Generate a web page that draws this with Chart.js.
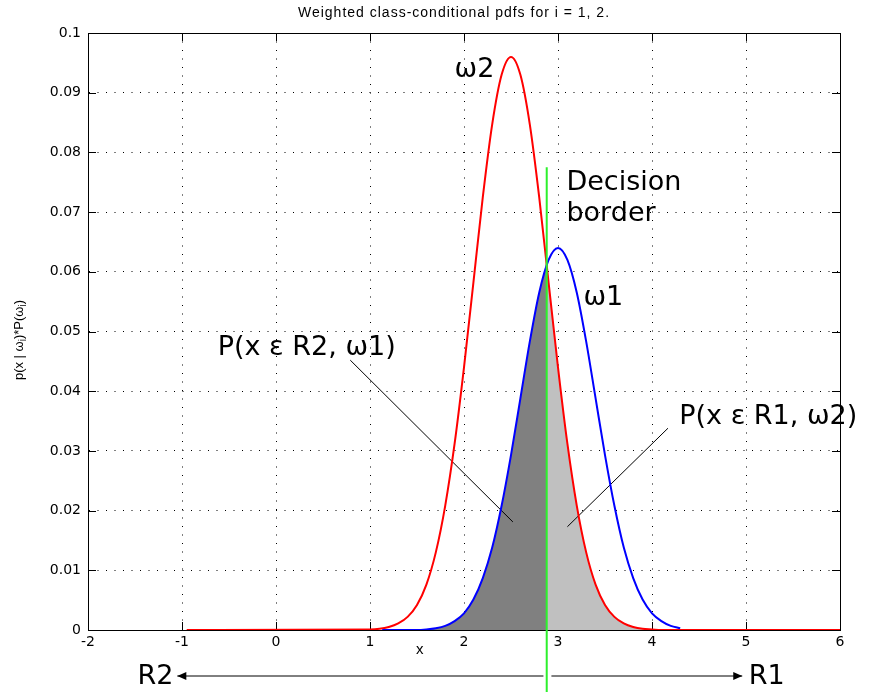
<!DOCTYPE html>
<html>
<head>
<meta charset="utf-8">
<script src="https://cdn.jsdelivr.net/npm/chart.js@4.4.1/dist/chart.umd.min.js"></script>
<style>
html, body { margin: 0; padding: 0; background: #fff; }
</style>
</head>
<body>
<canvas id="pdfs" width="876" height="692"></canvas>
<script>
// omega2 (red) weighted pdf
var redX = [-0.95, 1.0, 1.1, 1.2, 1.3, 1.4, 1.5, 1.6, 1.7, 1.8, 1.9, 2.0, 2.1, 2.2, 2.3, 2.4, 2.5,
            2.6, 2.7, 2.8, 2.9, 3.0, 3.1, 3.2, 3.3, 3.4, 3.5, 3.6, 3.7, 3.8, 3.9, 4.0, 4.1, 6.0];
var redY = [0, 0.0001, 0.0002, 0.0005, 0.0011, 0.0022, 0.0042, 0.0076, 0.0130, 0.0208, 0.0312, 0.0440,
            0.0582, 0.0725, 0.0847, 0.0930, 0.0960, 0.0930, 0.0847, 0.0725, 0.0582, 0.0440, 0.0312,
            0.0208, 0.0130, 0.0076, 0.0042, 0.0022, 0.0011, 0.0005, 0.0002, 0.0001, 0, 0];

// omega1 (blue) weighted pdf
var blueX = [1.13, 1.5, 1.6, 1.7, 1.8, 1.9, 2.0, 2.1, 2.2, 2.3, 2.4, 2.5, 2.6, 2.7, 2.8, 2.9, 3.0,
             3.1, 3.2, 3.3, 3.4, 3.5, 3.6, 3.7, 3.8, 3.9, 4.0, 4.1, 4.2, 4.3];
var blueY = [0, 0, 0.0001, 0.0003, 0.0007, 0.0015, 0.0028, 0.0051, 0.0087, 0.0138, 0.0208, 0.0293,
             0.0388, 0.0483, 0.0565, 0.0620, 0.0640, 0.0620, 0.0565, 0.0483, 0.0388, 0.0293, 0.0208,
             0.0138, 0.0087, 0.0051, 0.0028, 0.0015, 0.0007, 0.0003];

// decision border
var decisionX = 2.88;
var decisionY = 0.0612;
var borderTop = 0.0775;
var borderBottom = -0.0105;

var xTicks = [-2, -1, 0, 1, 2, 3, 4, 5, 6];
var yTicks = [0, 0.01, 0.02, 0.03, 0.04, 0.05, 0.06, 0.07, 0.08, 0.09, 0.1];

var titleText = 'Weighted class-conditional pdfs for i = 1, 2.';

// annotation texts, placed in data coordinates
var notes = [
    { text: '\u03c92', x: 1.90, y: 0.0926 },
    { text: '\u03c91', x: 3.27, y: 0.0544 },
    { text: 'Decision', x: 3.09, y: 0.0737 },
    { text: 'border', x: 3.09, y: 0.0685 },
    { text: 'P(x \u03b5 R2, \u03c91)', x: -0.62, y: 0.0461 },
    { text: 'P(x \u03b5 R1, \u03c92)', x: 4.29, y: 0.0345 }
];
var leaders = [
    [{ x: 0.79, y: 0.0452 }, { x: 2.52, y: 0.0181 }],
    [{ x: 3.10, y: 0.0173 }, { x: 4.17, y: 0.0338 }]
];

function toPoints(xs, ys){
    return xs.map(function(x, i){ return { x: x, y: ys[i] }; });
}

var redPts = toPoints(redX, redY);
var bluePts = toPoints(blueX, blueY);
var blueShade = bluePts.filter(function(p){ return p.x < decisionX; })
    .concat([{ x: decisionX, y: decisionY }]);
var redShade = [{ x: decisionX, y: decisionY }]
    .concat(redPts.filter(function(p){ return p.x > decisionX; }));

function arrow(ctx, x1, x2, y){
    ctx.beginPath();
    ctx.moveTo(x1, y);
    ctx.lineTo(x2, y);
    ctx.stroke();
    var d = x2 > x1 ? -1 : 1;
    ctx.beginPath();
    ctx.moveTo(x2, y);
    ctx.lineTo(x2 + d * 9, y - 4);
    ctx.lineTo(x2 + d * 9, y + 4);
    ctx.closePath();
    ctx.fill();
}

var decor = {
    id: 'decor',
    beforeDatasetsDraw: function(chart){
        var ctx = chart.ctx, a = chart.chartArea;
        var sx = chart.scales.x, sy = chart.scales.y;
        ctx.save();
        ctx.strokeStyle = '#000';
        ctx.lineWidth = 1;
        ctx.strokeRect(Math.round(a.left) + 0.5, Math.round(a.top) + 0.5,
                       Math.round(a.right - a.left), Math.round(a.bottom - a.top));
        ctx.beginPath();
        xTicks.forEach(function(v){
            var x = Math.round(sx.getPixelForValue(v)) + 0.5;
            ctx.moveTo(x, a.bottom); ctx.lineTo(x, a.bottom - 8);
            ctx.moveTo(x, a.top); ctx.lineTo(x, a.top + 8);
        });
        yTicks.forEach(function(v){
            var y = Math.round(sy.getPixelForValue(v)) + 0.5;
            ctx.moveTo(a.left, y); ctx.lineTo(a.left + 8, y);
            ctx.moveTo(a.right, y); ctx.lineTo(a.right - 8, y);
        });
        ctx.stroke();
        ctx.restore();
    },
    afterDraw: function(chart){
        var ctx = chart.ctx, a = chart.chartArea;
        var sx = chart.scales.x, sy = chart.scales.y;
        ctx.save();
        ctx.fillStyle = '#000';
        ctx.strokeStyle = '#000';

        // title
        ctx.font = '14px "Liberation Sans", Arial, sans-serif';
        ctx.letterSpacing = '1px';
        ctx.textAlign = 'center';
        ctx.textBaseline = 'middle';
        ctx.fillText(titleText, (a.left + a.right) / 2 - 10, 13);
        ctx.letterSpacing = '0px';

        // x label
        ctx.font = '15px "Liberation Sans", Arial, sans-serif';
        ctx.fillText('x', sx.getPixelForValue(1.53), a.bottom + 20);

        // y label with subscripts
        ctx.save();
        ctx.translate(19, 340);
        ctx.rotate(-Math.PI / 2);
        var parts = [['p(x | \u03c9', 0], ['i', 1], [')*P(\u03c9', 0], ['i', 1], [')', 0]];
        var big = '13px "Liberation Sans", Arial, sans-serif';
        var small = '10px "Liberation Sans", Arial, sans-serif';
        var total = 0;
        parts.forEach(function(p){ ctx.font = p[1] ? small : big; total += ctx.measureText(p[0]).width; });
        var cx = -total / 2;
        ctx.textAlign = 'left';
        ctx.textBaseline = 'alphabetic';
        parts.forEach(function(p){
            ctx.font = p[1] ? small : big;
            ctx.fillText(p[0], cx, p[1] ? 7 : 4);
            cx += ctx.measureText(p[0]).width;
        });
        ctx.restore();

        // annotations
        ctx.font = '27px "DejaVu Sans", sans-serif';
        ctx.textAlign = 'left';
        ctx.textBaseline = 'alphabetic';
        notes.forEach(function(n){
            ctx.fillText(n.text, sx.getPixelForValue(n.x), sy.getPixelForValue(n.y));
        });

        // region arrows
        var ay = 676;
        ctx.lineWidth = 1;
        arrow(ctx, sx.getPixelForValue(decisionX - 0.035), sx.getPixelForValue(-1.05), ay);
        arrow(ctx, sx.getPixelForValue(decisionX + 0.05), sx.getPixelForValue(4.96), ay);
        ctx.textBaseline = 'middle';
        ctx.textAlign = 'right';
        ctx.fillText('R2', sx.getPixelForValue(-1.09), ay + 1);
        ctx.textAlign = 'left';
        ctx.fillText('R1', sx.getPixelForValue(5.03), ay + 1);
        ctx.restore();
    }
};

var lineBase = { showLine: true, pointRadius: 0, pointHoverRadius: 0, fill: false };

var datasets = [
    Object.assign({}, lineBase, {
        label: 'Decision border', data: [{ x: decisionX, y: borderTop }, { x: decisionX, y: borderBottom }],
        borderColor: '#2cf02c', borderWidth: 2, clip: false, order: 0
    }),
    Object.assign({}, lineBase, {
        label: 'w1', data: bluePts, borderColor: '#0000ff', borderWidth: 2,
        cubicInterpolationMode: 'monotone', order: 1
    }),
    Object.assign({}, lineBase, {
        label: 'w2', data: redPts, borderColor: '#ff0000', borderWidth: 2,
        cubicInterpolationMode: 'monotone', order: 2
    }),
    Object.assign({}, lineBase, {
        label: 'R2,w1', data: blueShade, borderWidth: 0, borderColor: 'rgba(0,0,0,0)',
        backgroundColor: '#808080', fill: 'origin', cubicInterpolationMode: 'monotone', order: 4
    }),
    Object.assign({}, lineBase, {
        label: 'R1,w2', data: redShade, borderWidth: 0, borderColor: 'rgba(0,0,0,0)',
        backgroundColor: '#c0c0c0', fill: 'origin', cubicInterpolationMode: 'monotone', order: 4
    })
];
leaders.forEach(function(l, i){
    datasets.push(Object.assign({}, lineBase, {
        label: 'leader' + i, data: l, borderColor: '#000', borderWidth: 1, order: 3
    }));
});

var chart = new Chart(document.getElementById('pdfs').getContext('2d'), {
    type: 'scatter',
    data: { datasets: datasets },
    options: {
        responsive: false,
        animation: false,
        events: [],
        layout: { padding: { left: 30, top: 33, right: 36, bottom: 0 } },
        plugins: { legend: { display: false }, tooltip: { enabled: false } },
        scales: {
            x: {
                type: 'linear', min: -2, max: 6,
                afterBuildTicks: function(s){ s.ticks = xTicks.map(function(v){ return { value: v }; }); },
                afterFit: function(s){ s.height = 62; },
                grid: { color: '#000', lineWidth: 1, drawTicks: false },
                border: { display: true, color: '#000', width: 1, dash: [1, 7.5] },
                ticks: {
                    padding: 4, color: '#000', maxRotation: 0,
                    font: { family: 'DejaVu Sans', size: 14 },
                    callback: function(v){ return String(v); }
                }
            },
            y: {
                type: 'linear', min: 0, max: 0.1,
                afterBuildTicks: function(s){ s.ticks = yTicks.map(function(v){ return { value: v }; }); },
                afterFit: function(s){ s.width = 58; },
                grid: { color: '#000', lineWidth: 1, drawTicks: false },
                border: { display: true, color: '#000', width: 1, dash: [1, 7.5] },
                ticks: {
                    padding: 7, color: '#000',
                    font: { family: 'DejaVu Sans', size: 14 },
                    callback: function(v){ return String(+v.toFixed(2)); }
                }
            }
        }
    },
    plugins: [decor]
});
</script>
</body>
</html>
